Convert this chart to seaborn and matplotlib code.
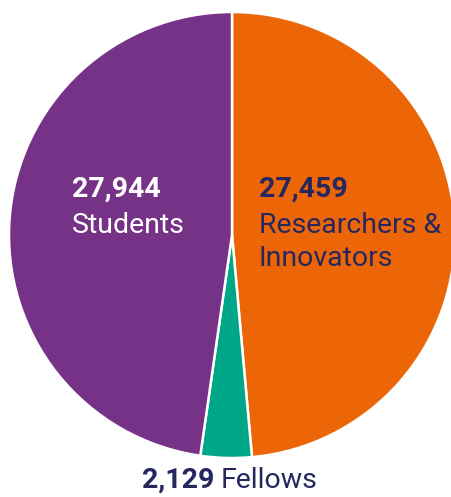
import matplotlib
matplotlib.use("Agg")
import matplotlib.pyplot as plt
import seaborn as sns

sns.set_theme(style="white")
plt.rcParams['font.family'] = ['Roboto', 'DejaVu Sans']

# data
grupos = ["Researchers & Innovators", "Fellows", "Students"]
valores = [27459, 2129, 27944]
cores = ["#ec6608", "#00a688", "#763286"]
navy = "#27275f"
# in the original graphic the orange and purple wedge sizes are swapped
# (orange wedge is the bigger one), so draw them in that order
fatias = [valores[2], valores[1], valores[0]]

W, H = 451, 497
fig = plt.figure(figsize=(W / 100, H / 100), dpi=100)

# pie centre ~ (232, 235) px, radius ~223 px
cx, cy, r = 232, 235, 223
ax = fig.add_axes([(cx - r) / W, (H - cy - r) / H, 2 * r / W, 2 * r / H])
ax.pie(fatias, colors=cores, startangle=90, counterclock=False, radius=1,
       wedgeprops=dict(edgecolor="white", linewidth=1.8))
ax.set_xlim(-1, 1)
ax.set_ylim(-1, 1)
ax.set_aspect("equal")
ax.axis("off")


def px(x, y):
    # pixel -> data coords
    return (x - cx) / r, (cy - y) / r


fs = 20.5
# Students
ax.text(*px(72, 197), f"{valores[2]:,}", color="white", fontsize=fs,
        fontweight="bold", ha="left", va="baseline")
ax.text(*px(72, 233), "Students", color="white", fontsize=fs,
        ha="left", va="baseline")

# Researchers & Innovators
ax.text(*px(259, 197), f"{valores[0]:,}", color=navy, fontsize=fs,
        fontweight="bold", ha="left", va="baseline")
ax.text(*px(259, 233), "Researchers &", color=navy, fontsize=fs,
        ha="left", va="baseline")
ax.text(*px(259, 266), "Innovators", color=navy, fontsize=fs,
        ha="left", va="baseline")

# Fellows
ax.text(*px(214, 488), f"{valores[1]:,}", color=navy, fontsize=fs,
        fontweight="bold", ha="right", va="baseline", clip_on=False)
ax.text(*px(221, 488), "Fellows", color=navy, fontsize=fs,
        ha="left", va="baseline", clip_on=False)

fig.savefig("out.png", dpi=100, facecolor="white")
